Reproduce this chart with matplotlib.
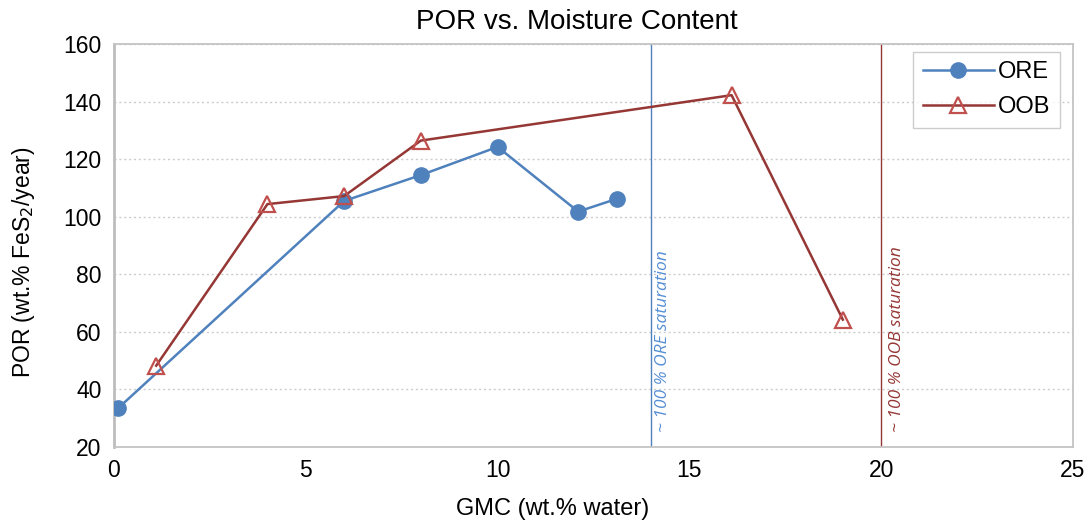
import matplotlib
matplotlib.use("Agg")
import matplotlib.pyplot as plt

plt.rcParams['font.family'] = ['Liberation Sans', 'DejaVu Sans']

ore_x = [0.1, 6, 8, 10, 12.1, 13.1]
ore_y = [33.3, 105.5, 114.5, 124.3, 101.8, 106.2]
oob_x = [1.1, 4, 6, 8, 16.1, 19]
oob_y = [48.2, 104.4, 107.2, 126.5, 142.3, 64.2]
sat_ore = 14
sat_oob = 20
xticks = [0, 5, 10, 15, 20, 25]
yticks = [20, 40, 60, 80, 100, 120, 140, 160]

fig = plt.figure(figsize=(10.89, 5.25), dpi=100)
ax = fig.add_axes([114/1089, 1-446.7/525, (1073-114)/1089, (446.7-44.3)/525])

ax.set_xlim(0, 25)
ax.set_ylim(20, 160)
ax.set_xticks(xticks)
ax.set_yticks(yticks)
ax.tick_params(length=0, labelsize=16.5, pad=9)
ax.yaxis.grid(True, linestyle=(0, (1.5, 2)), color='#cccccc', linewidth=1)
ax.set_axisbelow(True)
for s in ax.spines.values():
    s.set_color('#c4c4c4')
    s.set_linewidth(1.3)
ax.spines['left'].set_linewidth(2)
ax.spines['left'].set_color('#bdbdbd')

ax.axvline(sat_ore, color='#4F81BD', lw=1)
ax.axvline(sat_oob, color='#953735', lw=1)

ax.plot(ore_x, ore_y, color='#4F81BD', lw=1.8, marker='o', markersize=11,
        markerfacecolor='#4F81BD', markeredgecolor='#4F81BD', label='ORE', zorder=3)
ax.plot(oob_x, oob_y, color='#953735', lw=1.8, marker='^', markersize=11,
        markerfacecolor='none', markeredgecolor='#C0504D', markeredgewidth=1.6,
        label='OOB', zorder=4)

ax.text(sat_ore + 0.3, 25, '~ 100 % ORE saturation', rotation=90, color='#558ED5',
        fontsize=12.5, style='italic', family=['Open Sans', 'DejaVu Sans'],
        ha='center', va='bottom')
ax.text(sat_oob + 0.4, 25, '~ 100 % OOB saturation', rotation=90, color='#953735',
        fontsize=12.5, style='italic', family=['Open Sans', 'DejaVu Sans'],
        ha='center', va='bottom')

leg = ax.legend(loc='upper right', bbox_to_anchor=(0.9865, 0.981), fontsize=17,
                frameon=True, fancybox=False, edgecolor='#c0c0c0', borderaxespad=0,
                handlelength=3.0, borderpad=0.4, labelspacing=0.55, handletextpad=0.2)
leg.get_frame().set_linewidth(1)

fig.text(577/1089, 1-22/525, 'POR vs. Moisture Content', ha='center', va='center', fontsize=20)
fig.text(553/1089, 1-509/525, 'GMC (wt.% water)', ha='center', va='center', fontsize=17)
fig.text(24/1089, 1-262/525, 'POR (wt.% FeS$_2$/year)', ha='center', va='center',
         rotation=90, fontsize=16.5)

fig.savefig('out.png', dpi=100)
